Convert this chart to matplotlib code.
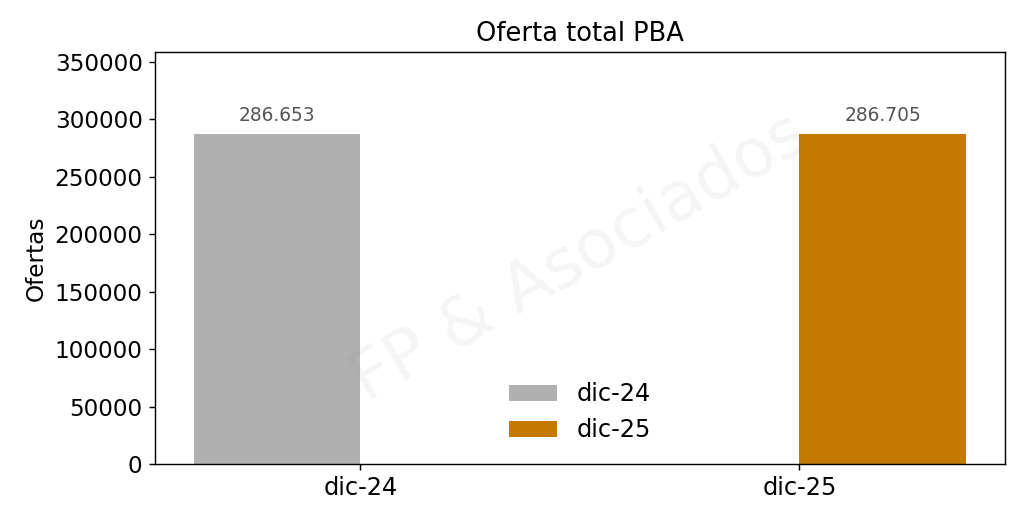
import numpy as np
import matplotlib
matplotlib.use('Agg')
import matplotlib.pyplot as plt

periodos = ['dic-24', 'dic-25']
ofertas = [286653, 286705]
etiquetas = ['286.653', '286.705']
colores = ['#b0b0b0', '#c47a00']

fig, ax = plt.subplots(figsize=(8, 4.0625), dpi=128)
fig.subplots_adjust(left=0.1514, right=0.9814, top=0.9, bottom=0.1077)
x = np.arange(len(periodos))
w = 0.38
anchos = [-w, w]
for i in range(len(periodos)):
    ax.bar(x[i], ofertas[i], width=anchos[i], align='edge', color=colores[i], label=periodos[i])
    ax.text(x[i] + anchos[i] / 2, ofertas[i] + 0.03 * max(ofertas), etiquetas[i],
            ha='center', va='bottom', fontsize=10.5, color='#555555')

ax.set_xticks(x)
ax.set_xticklabels(periodos, fontsize=13.5)
ax.tick_params(axis='y', labelsize=13)
ax.set_ylim(0, max(ofertas) * 1.25)
ax.set_ylabel('Ofertas', fontsize=13)
ax.set_title('Oferta total PBA', fontsize=14.5)
ax.legend(loc='lower center', frameon=False, fontsize=13.5)
ax.text(0.5, 0.5, 'FP & Asociados', transform=ax.transAxes, fontsize=38,
        color='gray', alpha=0.08, rotation=30, ha='center', va='center')
plt.savefig('out.png')
